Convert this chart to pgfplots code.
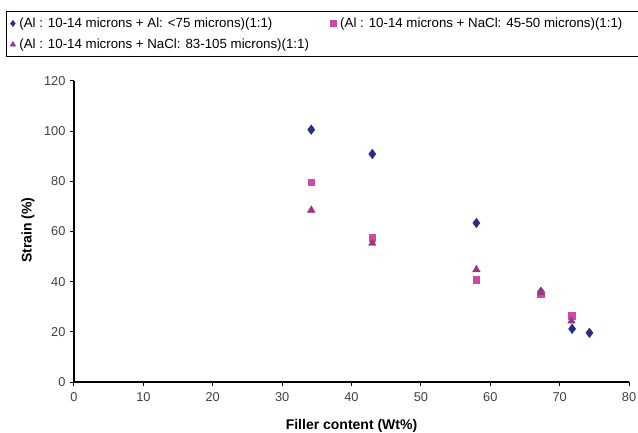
\documentclass[border=0pt]{standalone}
\usepackage{fontspec}
\setmainfont{Liberation Sans}
\usepackage{pgfplots}
\pgfplotsset{compat=1.18}
\definecolor{cdia}{RGB}{43,45,134}
\definecolor{csq}{RGB}{208,72,168}
\definecolor{ctri}{RGB}{160,52,130}
\begin{document}
\begin{tikzpicture}
\useasboundingbox (-74bp,-51bp) rectangle (564bp,382bp);
\begin{axis}[
  at={(0,0)}, anchor=south west,
  scale only axis, width=555bp, height=301bp,
  xmin=0, xmax=80, ymin=0, ymax=120,
  xtick={0,10,...,80}, ytick={0,20,...,120},
  axis x line*=bottom, axis y line*=left,
  axis line style={-, line width=1.3bp, black},
  tick align=outside, major tick length=4bp,
  tick style={line width=1bp, black},
  /pgf/number format/assume math mode=true,
  ticklabel style={font=\fontsize{12.8bp}{15bp}\selectfont, text=black!75},
  yticklabel style={xshift=-1bp},
  xticklabel style={yshift=-3bp},
  xlabel={\textbf{Filler content (Wt\%)}},
  ylabel={\textbf{Strain (\%)}},
  label style={font=\fontsize{14bp}{16bp}\selectfont},
  xlabel style={at={(axis description cs:0.5,-0.145)}, anchor=center},
  ylabel style={at={(axis description cs:-0.083,0.505)}, anchor=center},
  legend columns=2,
  legend image code/.code={\draw[#1, mark size=2.9bp] plot coordinates {(0bp,0bp)};},
  legend style={
    at={(-68bp,371bp)}, anchor=north west,
    draw=black, line width=0.8bp, fill=white,
    font=\fontsize{13.3bp}{15bp}\selectfont,
    inner xsep=4bp, inner ysep=5.5bp,
    row sep=8bp,
    nodes={inner sep=1bp, anchor=west},
    /tikz/every odd column/.append style={column sep=3bp},
    legend cell align=left,
  },
]
\addplot[only marks, mark=diamond*, mark size=4.8bp, color=cdia] coordinates {
  (34.2,100.6) (43.0,90.9) (58.0,63.4) (67.3,35.9) (71.8,21.2) (74.3,19.6)
};
\addlegendentry{\makebox[310bp][l]{(Al : 10-14 microns + Al: <75 microns)(1:1)}}
\addplot[only marks, mark=square*, mark size=3.3bp, color=csq] coordinates {
  (34.2,79.7) (43.0,57.5) (58.0,40.7) (67.3,35.0) (71.7,26.5)
};
\addlegendentry{\makebox[300bp][l]{(Al : 10-14 microns + NaCl: 45-50 microns)(1:1)}}
\addplot[only marks, mark=triangle*, mark size=4.4bp, color=ctri] coordinates {
  (34.2,68.5) (43.0,55.3) (58.0,44.8) (67.3,35.6) (71.7,24.3)
};
\addlegendentry{(Al : 10-14 microns + NaCl: 83-105 microns)(1:1)}
\end{axis}
\end{tikzpicture}
\end{document}
